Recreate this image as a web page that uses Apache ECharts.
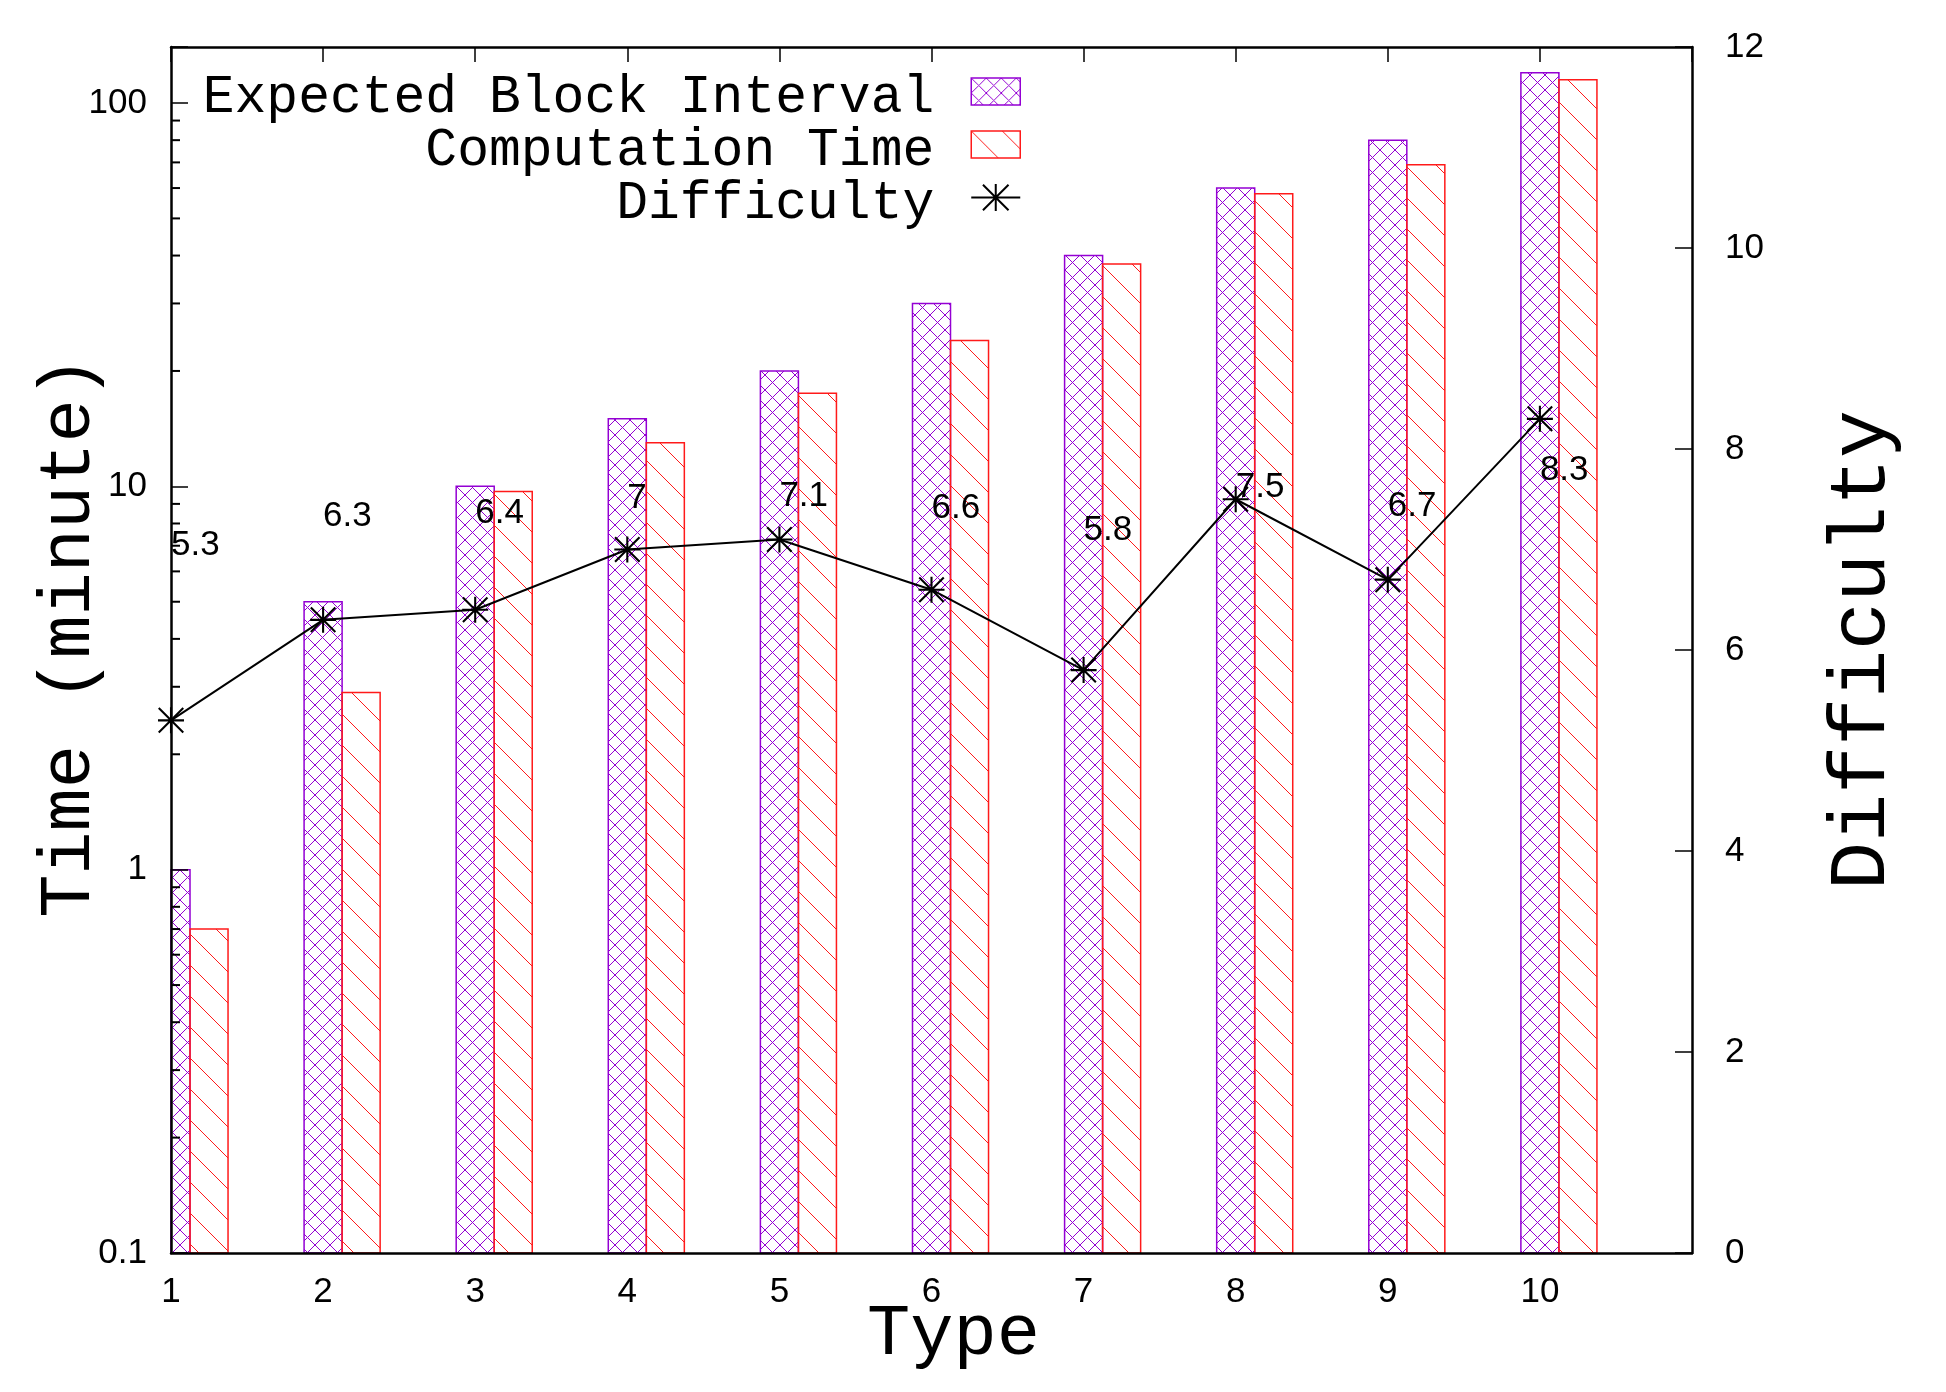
<!DOCTYPE html>
<html lang="en">
<head>
    <meta charset="UTF-8">
    <title>Time and Difficulty by Type</title>
    <script src="https://cdn.jsdelivr.net/npm/echarts@6/dist/echarts.min.js"></script>
    <style>
        body { margin: 0; background: #fff; }
        #chart { width: 1946px; height: 1392px; }
    </style>
</head>
<body>
<div id="chart"></div>
<script>
    // values
    var types = [1, 2, 3, 4, 5, 6, 7, 8, 9, 10];
    var expectedInterval = [1, 5, 10, 15, 20, 30, 40, 60, 80, 120];
    var computationTime = [0.7, 2.9, 9.7, 13, 17.5, 24, 38, 58, 69, 115];
    var difficulty = [5.3, 6.3, 6.4, 7, 7.1, 6.6, 5.8, 7.5, 6.7, 8.3];
    var logMinorTicks = [0.2, 0.3, 0.4, 0.5, 0.6, 0.7, 0.8, 0.9,
                         2, 3, 4, 5, 6, 7, 8, 9,
                         20, 30, 40, 50, 60, 70, 80, 90];

    var PURPLE = '#9400d3';
    var RED = '#ff1a1a';
    var MONO = '"Liberation Mono", "DejaVu Sans Mono", monospace';
    var SANS = '"Liberation Sans", Arial, sans-serif';

    function hatchCanvas(size, color, cross) {
        var c = document.createElement('canvas');
        c.width = size;
        c.height = size;
        var g = c.getContext('2d');
        g.strokeStyle = color;
        g.lineWidth = 1;
        g.beginPath();
        for (var k = -1; k <= 1; k++) {
            g.moveTo(k * size, 0);
            g.lineTo(k * size + size, size);
            if (cross) {
                g.moveTo(k * size + size, 0);
                g.lineTo(k * size, size);
            }
        }
        g.stroke();
        return c;
    }
    var purpleFill = { image: hatchCanvas(15, PURPLE, true), repeat: 'repeat' };
    var redFill = { image: hatchCanvas(31, RED, false), repeat: 'repeat' };

    // gnuplot style "*" point: plus and cross overlaid
    var asterisk = 'path://M46 0L54 0L54 100L46 100Z M0 46L100 46L100 54L0 54Z' +
        ' M0 5.7L5.7 0L100 94.3L94.3 100Z M94.3 0L100 5.7L5.7 100L0 94.3Z';
    // key sample: short line with the point on it
    var asteriskKey = 'path://M0 25L98 25L98 29L0 29Z M47 0L51 0L51 54L47 54Z' +
        ' M22 2.83L24.83 0L76 51.17L73.17 54Z M73.17 0L76 2.83L24.83 54L22 51.17Z';

    function pairs(xs, ys) {
        return xs.map(function (x, i) { return [x, ys[i]]; });
    }

    // slot 0 sits centred on the type, slot 1 just right of it
    function barRender(slot, fill, stroke) {
        return function (params, api) {
            var x = api.value(0), v = api.value(1);
            var top = api.coord([x, v]);
            var base = api.coord([x, 0.1]);
            var w = api.coord([x + 0.25, v])[0] - top[0];
            var x0 = top[0] - w / 2 + slot * w;
            var left = Math.max(x0, params.coordSys.x);
            return {
                type: 'rect',
                shape: { x: left, y: top[1], width: x0 + w - left, height: base[1] - top[1] },
                style: { fill: fill, stroke: stroke, lineWidth: 1.5 }
            };
        };
    }

    var chart = echarts.init(document.getElementById('chart'));
    var option = {
        backgroundColor: '#fff',
        animation: false,
        grid: { left: 171, right: 254, top: 47, bottom: 139, containLabel: false, outerBoundsMode: 'none' },
        legend: {
            orient: 'vertical',
            align: 'right',
            right: 925,
            top: 71,
            padding: 0,
            itemGap: 0,
            itemWidth: 49,
            itemHeight: 27,
            selectedMode: false,
            formatter: function (name) { return '{t|' + name + '}'; },
            textStyle: {
                fontFamily: MONO, fontSize: 53, color: '#000',
                rich: {
                    t: {
                        fontFamily: MONO, fontSize: 53, color: '#000',
                        height: 42,
                        padding: [12, 32, 0, 0]
                    }
                }
            },
            data: [
                { name: 'Expected Block Interval', icon: 'rect',
                  itemStyle: { color: purpleFill, borderColor: PURPLE, borderWidth: 1.5 } },
                { name: 'Computation Time', icon: 'rect',
                  itemStyle: { color: redFill, borderColor: RED, borderWidth: 1.5 } },
                { name: 'Difficulty', icon: asteriskKey,
                  itemStyle: { color: '#000', borderWidth: 0 } }
            ]
        },
        xAxis: [{
            type: 'value',
            min: 1, max: 11, interval: 1,
            position: 'bottom',
            z: 5,
            name: 'Type',
            nameLocation: 'middle',
            nameGap: 46,
            nameMoveOverlap: false,
            nameTextStyle: { fontFamily: MONO, fontSize: 72, color: '#000', padding: [0, 0, 0, 44] },
            axisLine: { lineStyle: { color: '#000', width: 2.5 } },
            axisTick: { show: false },
            axisLabel: {
                margin: 22, fontFamily: SANS, fontSize: 35, color: '#000',
                showMinLabel: true, showMaxLabel: true,
                formatter: function (v) { return v <= 10 ? String(v) : ''; }
            },
            splitLine: { show: false }
        }, {
            type: 'value',
            min: 1, max: 11, interval: 1,
            position: 'top',
            z: 5,
            axisLine: { lineStyle: { color: '#000', width: 2.5 } },
            axisTick: { inside: true, length: 15, lineStyle: { color: '#000', width: 1.5 } },
            axisLabel: { show: false },
            splitLine: { show: false }
        }],
        yAxis: [{
            type: 'log',
            logBase: 10,
            min: 0.1, max: 140,
            position: 'left',
            z: 5,
            name: 'Time (minute)',
            nameLocation: 'middle',
            nameGap: 65,
            nameMoveOverlap: false,
            nameTextStyle: { fontFamily: MONO, fontSize: 72, color: '#000', padding: [0, 0, 0, 26] },
            axisLine: { lineStyle: { color: '#000', width: 2.5 } },
            axisTick: { inside: true, length: 17, lineStyle: { color: '#000', width: 1.5 } },
            axisLabel: {
                margin: 24, fontFamily: SANS, fontSize: 35, color: '#000',
                showMinLabel: true,
                formatter: function (v) {
                    var e = Math.log10(v);
                    return Math.abs(e - Math.round(e)) < 1e-6 ? String(v) : '';
                }
            },
            splitLine: { show: false }
        }, {
            type: 'value',
            min: 0, max: 12, interval: 2,
            position: 'right',
            z: 5,
            name: 'Difficulty',
            nameLocation: 'middle',
            nameGap: 131,
            nameMoveOverlap: false,
            nameTextStyle: { fontFamily: MONO, fontSize: 80, color: '#000' },
            axisLine: { lineStyle: { color: '#000', width: 2.5 } },
            axisTick: { inside: true, length: 17, lineStyle: { color: '#000', width: 1.5 } },
            axisLabel: {
                margin: 33, fontFamily: SANS, fontSize: 35, color: '#000',
                showMinLabel: true, showMaxLabel: true
            },
            splitLine: { show: false }
        }],
        series: [{
            name: 'Expected Block Interval',
            type: 'custom',
            xAxisIndex: 0, yAxisIndex: 0,
            itemStyle: { color: PURPLE },
            renderItem: barRender(0, purpleFill, PURPLE),
            data: pairs(types, expectedInterval)
        }, {
            name: 'Computation Time',
            type: 'custom',
            xAxisIndex: 0, yAxisIndex: 0,
            itemStyle: { color: RED },
            renderItem: barRender(1, redFill, RED),
            data: pairs(types, computationTime)
        }, {
            name: 'Difficulty',
            type: 'line',
            xAxisIndex: 0, yAxisIndex: 1,
            symbol: asterisk,
            symbolSize: 26,
            z: 4,
            itemStyle: { color: '#000' },
            lineStyle: { color: '#000', width: 2 },
            data: pairs(types, difficulty)
        }, {
            // value labels, placed like the original: at the value on the time axis
            type: 'custom',
            xAxisIndex: 0, yAxisIndex: 0,
            z: 6,
            renderItem: function (params, api) {
                var p = api.coord([api.value(0), api.value(1)]);
                return {
                    type: 'text',
                    x: p[0], y: p[1] - 47,
                    style: {
                        text: String(api.value(1)), fill: '#000',
                        font: '35px ' + SANS, align: 'left', verticalAlign: 'middle'
                    }
                };
            },
            data: pairs(types, difficulty)
        }, {
            // minor ticks of the log axis
            type: 'custom',
            xAxisIndex: 0, yAxisIndex: 0,
            z: 6,
            silent: true,
            renderItem: function (params, api) {
                var p = api.coord([1, api.value(0)]);
                return {
                    type: 'line',
                    shape: { x1: p[0], y1: p[1], x2: p[0] + 9, y2: p[1] },
                    style: { stroke: '#000', lineWidth: 2 }
                };
            },
            data: logMinorTicks.map(function (v) { return [v]; })
        }]
    };
    chart.setOption(option);
</script>
</body>
</html>
